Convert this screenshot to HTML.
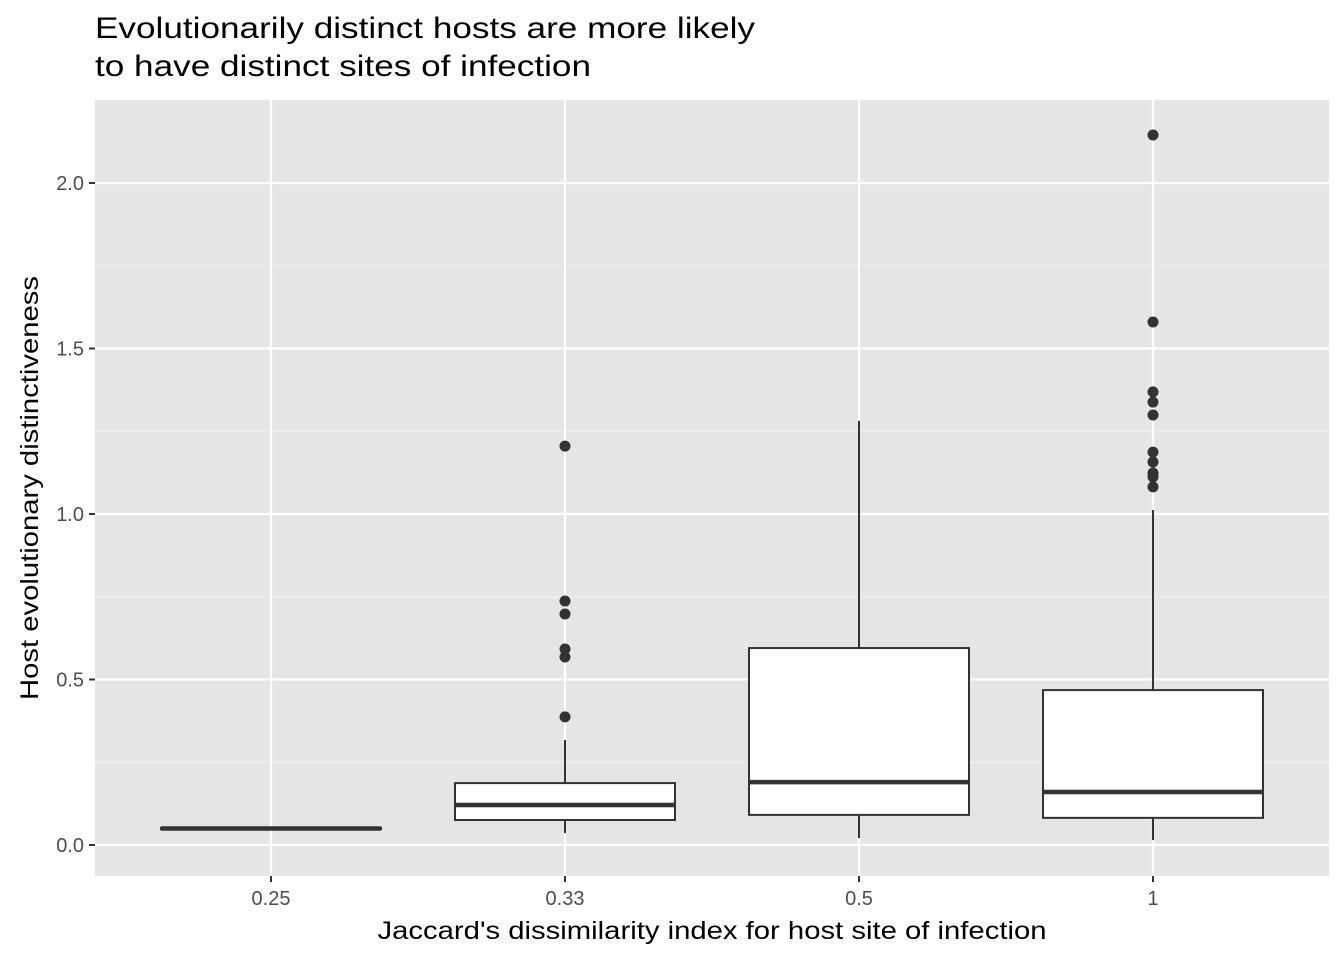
<!DOCTYPE html>
<html><head><meta charset="utf-8"><style>
body{margin:0;background:#fff;font-family:"Liberation Sans",Arial,sans-serif}
</style></head><body>
<svg id="chart" width="1344" height="960" xmlns="http://www.w3.org/2000/svg">
<text x="95" y="38" font-size="30" textLength="660" lengthAdjust="spacingAndGlyphs" fill="#000">Evolutionarily distinct hosts are more likely</text>
<text x="95" y="76" font-size="30" textLength="496" lengthAdjust="spacingAndGlyphs" fill="#000">to have distinct sites of infection</text>
<rect x="95" y="100" width="1234" height="776" fill="#e5e5e5"/>
<g id="grid"></g><g id="marks"></g><g id="axes"></g>
<text x="712" y="939" font-size="25" textLength="669" lengthAdjust="spacingAndGlyphs" text-anchor="middle">Jaccard's dissimilarity index for host site of infection</text>
<text transform="translate(38,488) rotate(-90)" font-size="25" textLength="424" lengthAdjust="spacingAndGlyphs" text-anchor="middle">Host evolutionary distinctiveness</text>
</svg>
<script>
const categories=["0.25","0.33","0.5","1"];
const whiskerLow=[0.046,0.036,0.021,0.015];
const q1=[0.048,0.0755,0.091,0.082];
const medians=[0.05,0.121,0.19,0.16];
const q3=[0.052,0.187,0.595,0.468];
const whiskerHigh=[0.056,0.317,1.281,1.012];
const outliers=[[],[1.205,0.737,0.698,0.592,0.568,0.387],[],[2.145,1.58,1.369,1.338,1.299,1.187,1.157,1.124,1.112,1.082]];
const yTicks=[0,0.5,1,1.5,2];
const yTickLabels=["0.0","0.5","1.0","1.5","2.0"];
const NS="http://www.w3.org/2000/svg";
const y=v=>845-v*331;
const x=i=>271+i*294;
const bw=220;
function mk(p,t,a){const e=document.createElementNS(NS,t);for(const k in a)e.setAttribute(k,a[k]);p.appendChild(e);return e;}
const grid=document.getElementById('grid'),marks=document.getElementById('marks'),axes=document.getElementById('axes');
for(let i=0;i<yTicks.length-1;i++){const m=(yTicks[i]+yTicks[i+1])/2;
const g=mk(grid,'line',{x1:95,x2:1329,y1:y(m),y2:y(m),stroke:'#f2f2f2','stroke-width':1.1});

}
yTicks.forEach((t,i)=>{const g=mk(grid,'line',{x1:95,x2:1329,y1:y(t),y2:y(t),stroke:'#fff','stroke-width':2.2});


const tk=mk(axes,'line',{x1:89,x2:95,y1:y(t),y2:y(t),stroke:'#333','stroke-width':2});


const l=mk(axes,'text',{x:84,y:y(t)+7,'font-size':20,'text-anchor':'end',fill:'#4d4d4d'});l.textContent=yTickLabels[i];

});
categories.forEach((c,i)=>{const g=mk(grid,'line',{x1:x(i),x2:x(i),y1:100,y2:876,stroke:'#fff','stroke-width':2.2});


const tk=mk(axes,'line',{x1:x(i),x2:x(i),y1:876,y2:882,stroke:'#333','stroke-width':2});


const l=mk(axes,'text',{x:x(i),y:905,'font-size':20,'text-anchor':'middle',fill:'#4d4d4d'});l.textContent=c;


const grp=mk(marks,'g',{});


mk(grp,'line',{x1:x(i),x2:x(i),y1:y(whiskerLow[i]),y2:y(q1[i]),stroke:'#333','stroke-width':2});
mk(grp,'line',{x1:x(i),x2:x(i),y1:y(q3[i]),y2:y(whiskerHigh[i]),stroke:'#333','stroke-width':2});
mk(grp,'rect',{x:x(i)-bw/2,y:y(q3[i]),width:bw,height:y(q1[i])-y(q3[i]),fill:'#fff',stroke:'#333','stroke-width':2});
mk(grp,'line',{x1:x(i)-bw/2,x2:x(i)+bw/2,y1:y(medians[i]),y2:y(medians[i]),stroke:'#333','stroke-width':4.5});
outliers[i].forEach(v=>{const p=mk(grp,'circle',{cx:x(i),cy:y(v),r:5.5,fill:'#333'});

});
});
</script>
</body></html>
